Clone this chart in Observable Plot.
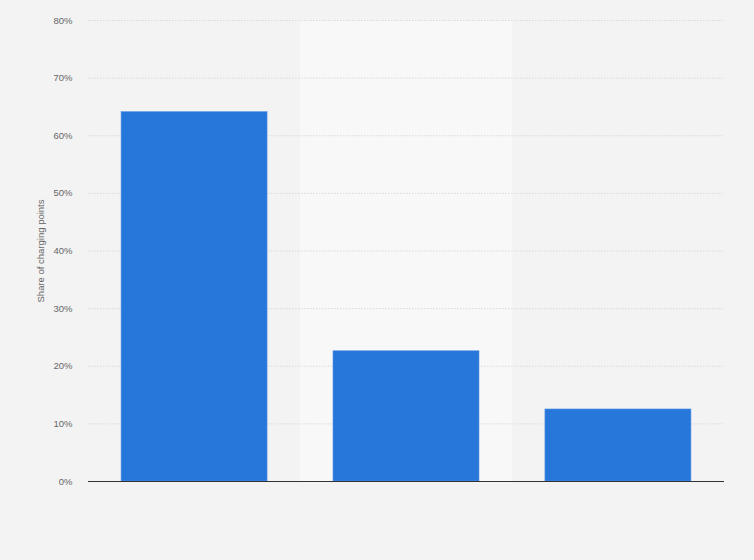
<!DOCTYPE html>
<html>
<head>
<meta charset="utf-8">
<script src="https://cdn.jsdelivr.net/npm/d3@7"></script>
<script src="https://cdn.jsdelivr.net/npm/@observablehq/plot@0.6"></script>
<style>
  html, body { margin: 0; padding: 0; background: #f3f3f3; }
  #chart { width: 754px; height: 560px; }
  svg { font-family: Arial, "Liberation Sans", sans-serif; }
</style>
</head>
<body>
<div id="chart"></div>
<script>
const categories = ["Category A", "Category B", "Category C"];
const shares = [64.1, 22.6, 12.5];
const yTicks = [0, 10, 20, 30, 40, 50, 60, 70, 80];
const yTitle = "Share of charging points";

const data = categories.map((c, i) => ({category: c, share: shares[i]}));
const bandData = [categories[1]];

const chart = Plot.plot({
  width: 754,
  height: 560,
  marginLeft: 88,
  marginRight: 30,
  marginTop: 20,
  marginBottom: 79,
  style: {background: "#f3f3f3", fontFamily: "Arial, 'Liberation Sans', sans-serif"},
  x: {domain: categories, paddingInner: 0.311, paddingOuter: 0.156, round: false, axis: null},
  y: {domain: [0, 80], ticks: yTicks, axis: null},
  marks: [
    Plot.barY(bandData, {x: d => d, y1: 0, y2: 80, fill: "#f8f8f8", insetLeft: -33, insetRight: -33, insetTop: 0, insetBottom: 0}),
    Plot.gridY(yTicks.filter(t => t > 0), {stroke: "#d9d9d9", strokeOpacity: 1, strokeDasharray: "1.5,1.5", strokeWidth: 1}),
    Plot.axisY({ticks: yTicks, tickSize: 0, tickPadding: 16, tickFormat: d => d + "%", fill: "#666", fontSize: 9.5, label: null}),
    Plot.text([yTitle], {frameAnchor: "left", textAnchor: "middle", dx: -48, rotate: -90, text: d => d, fill: "#666", fontSize: 9.5}),
    Plot.barY(data, {x: "category", y: "share", fill: "#2776da", stroke: "#5b98e6", strokeWidth: 0.6}),
    Plot.ruleY([0], {stroke: "#333", strokeWidth: 1.2})
  ]
});
document.getElementById("chart").append(chart);
</script>
</body>
</html>
